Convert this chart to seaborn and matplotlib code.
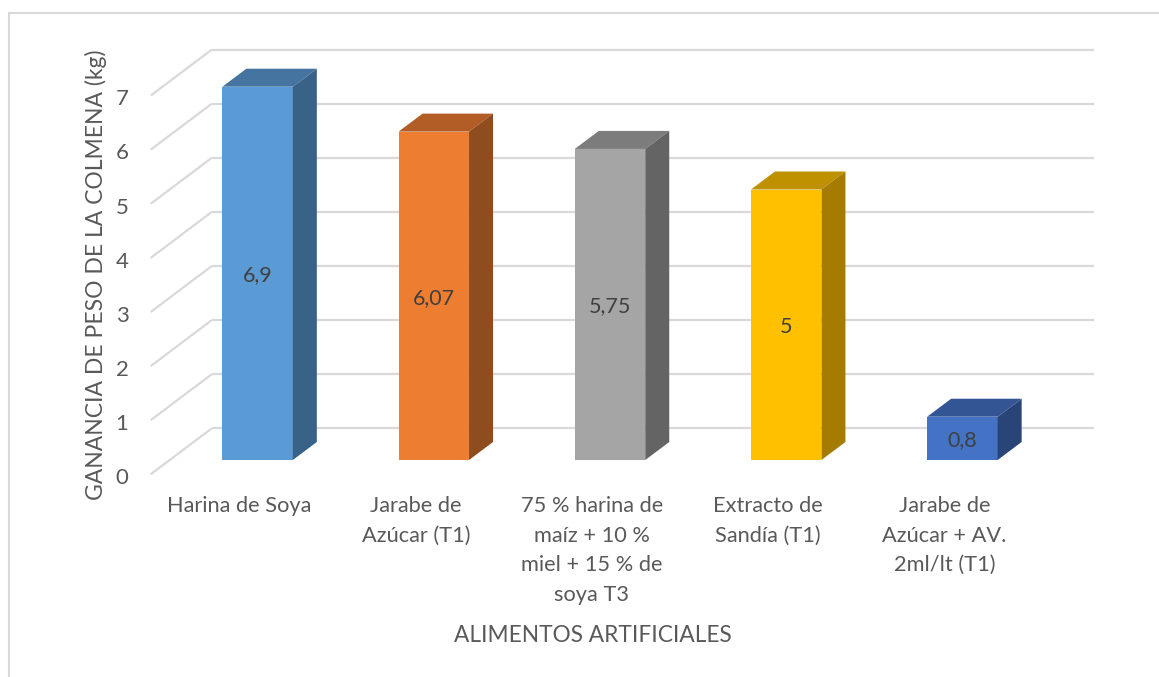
import seaborn as sns
import matplotlib.pyplot as plt
from matplotlib.lines import Line2D
from matplotlib.patches import Polygon
from matplotlib.transforms import ScaledTranslation

alimentos = ["Harina de Soya",
             "Jarabe de\nAzúcar (T1)",
             "75 % harina de\nmaíz + 10 %\nmiel + 15 % de\nsoya T3",
             "Extracto de\nSandía (T1)",
             "Jarabe de\nAzúcar + AV.\n2ml/lt (T1)"]
ganancia = [6.9, 6.07, 5.75, 5, 0.8]
etiquetas = ["6,9", "6,07", "5,75", "5", "0,8"]
y_ticks = [0, 1, 2, 3, 4, 5, 6, 7]

color_frente = ["#5B9BD5", "#ED7D31", "#A5A5A5", "#FFC000", "#4472C4"]
color_techo = ["#44749F", "#B25D25", "#7C7C7C", "#BF9000", "#335593"]
color_lado = ["#386287", "#8F4C1E", "#646464", "#A67C00", "#294578"]

GRIS = "#D9D9D9"
TEXTO = "#595959"

W, H = 1159, 677
fig = plt.figure(figsize=(W / 100, H / 100), dpi=100)

sns.set_theme(style="white")
plt.rcParams["font.family"] = ["Lato", "DejaVu Sans"]

# plano frontal de las barras, en pixeles de la imagen
ax = fig.add_axes([169.5 / W, 1 - 460 / H, 881 / W, 378.7 / H])
sns.barplot(x=alimentos, y=ganancia, hue=alimentos, palette=color_frente, legend=False,
            width=0.4, saturation=1, linewidth=0, ax=ax, zorder=3)
ax.set_xlim(-0.5, 4.5)
ax.set_ylim(0, 7)
sns.despine(ax=ax, left=True, bottom=True)
ax.patch.set_alpha(0)

# unidades de datos por pixel, para dibujar la profundidad
ux = 5 / 881
uy = 7 / 378.7

# pared del fondo y lineas diagonales de la izquierda
for v in y_ticks:
    ax.plot([-0.5 + 42.3 * ux, 4.5 + 43.3 * ux], [v + 31.7 * uy] * 2, color=GRIS, lw=1.6,
            zorder=1, clip_on=False, solid_capstyle="butt")
    ax.plot([-0.5 - 18.8 * ux, -0.5 + 42.3 * ux], [v - 14.3 * uy, v + 31.7 * uy], color=GRIS, lw=1.6,
            zorder=1, clip_on=False, solid_capstyle="butt")

# caras de arriba y del lado de cada barra
dx = 24 * ux
dy = 18 * uy
for i, barra in enumerate(ax.patches):
    x0 = barra.get_x()
    x1 = x0 + barra.get_width()
    h = barra.get_height()
    ax.add_patch(Polygon([(x0, h), (x1, h), (x1 + dx, h + dy), (x0 + dx, h + dy)],
                         facecolor=color_techo[i], edgecolor="none", zorder=3, clip_on=False))
    ax.add_patch(Polygon([(x1, 0), (x1 + dx, dy), (x1 + dx, h + dy), (x1, h)],
                         facecolor=color_lado[i], edgecolor="none", zorder=3, clip_on=False))
    ax.text(x0 + barra.get_width() / 2, h / 2 - 2 * uy, etiquetas[i], ha="center", va="center",
            fontsize=15.5, color="#404040", zorder=4)

ax.set_yticks(y_ticks)
ax.set_yticklabels(y_ticks)
ax.set_xticks(range(len(alimentos)))
ax.set_xticklabels(alimentos, linespacing=1.6)
ax.tick_params(axis="y", length=0, pad=29.5, labelsize=16, labelcolor=TEXTO)
ax.tick_params(axis="x", length=0, pad=26, labelsize=15.7, labelcolor=TEXTO)

# etiquetas corridas como en el original
for lab in ax.get_yticklabels():
    lab.set_transform(lab.get_transform() + ScaledTranslation(0, -16 / 100, fig.dpi_scale_trans))
for lab in ax.get_xticklabels():
    lab.set_transform(lab.get_transform() + ScaledTranslation(-18 / 100, 0, fig.dpi_scale_trans))

ax.set_xlabel("ALIMENTOS ARTIFICIALES", fontsize=16.3, color=TEXTO, va="center")
ax.set_ylabel("GANANCIA DE PESO DE LA COLMENA (kg)", fontsize=16.5, color=TEXTO, va="center")
ax.xaxis.set_label_coords((593 - 170) / 881, (460 - 635) / 378.7)
ax.yaxis.set_label_coords((96 - 170) / 881, (460 - 275) / 378.7)

# marco del grafico, solo arriba e izquierda se ven
fig.add_artist(Line2D([8.5 / W, 8.5 / W, 1], [0, 1 - 13.3 / H, 1 - 13.3 / H], color=GRIS, lw=1.5))

fig.savefig("out.png", dpi=100)
plt.close()
